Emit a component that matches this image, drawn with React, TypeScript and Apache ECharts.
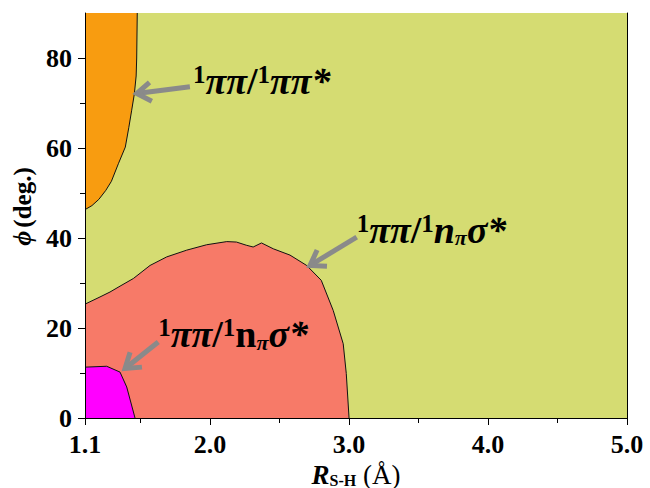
import React, { useEffect, useRef } from 'react';
import * as echarts from 'echarts';

// Axis ticks
const xMajorTicks = [1.1, 2.0, 3.0, 4.0, 5.0];
const xMinorTicks = [1.5, 2.5, 3.5, 4.5];
const yMajorTicks = [0, 20, 40, 60, 80];
const yMinorTicks = [10, 30, 50, 70];

// Region boundaries [R (Å), phi (deg)]
const orangeBoundary = [
  [1.1, 46.3], [1.15, 47.2], [1.2, 48.6], [1.25, 50.6], [1.29, 52.6], [1.34, 56.5],
  [1.39, 60.2], [1.415, 64.5], [1.436, 68.4], [1.455, 72.0], [1.468, 76.0],
  [1.472, 80.0], [1.476, 90.0],
];
const orangeClosing = [[1.1, 90]];

const salmonBoundary = [
  [1.1, 25.3], [1.208, 26.9], [1.28, 28.0], [1.352, 29.3], [1.448, 31.0], [1.568, 33.9],
  [1.688, 35.8], [1.832, 37.3], [1.975, 38.5], [2.12, 39.2], [2.19, 39.1], [2.26, 38.4],
  [2.31, 38.0], [2.37, 38.9], [2.455, 37.6], [2.575, 36.2], [2.695, 33.9], [2.80, 30.6],
  [2.886, 23.9], [2.958, 16.5], [2.98, 9.9], [3.0, 0],
];
const salmonClosing = [[1.1, 0]];

const magentaBoundary = [
  [1.1, 11.3], [1.256, 11.5], [1.352, 10.2], [1.40, 6.9], [1.46, 0],
];
const magentaClosing = [[1.1, 0]];

// Annotations (data coordinates)
const arrowTails = [[1.855, 73.6], [3.055, 40.2], [1.627, 16.9]];
const arrowTips = [[1.472, 72.1], [2.719, 33.9], [1.388, 11.0]];
const labelAnchors = [[1.877, 79.2], [3.055, 46.1], [1.627, 22.8]];
const labelTexts = [
  '{s|1}{i|ππ}{b|/}{s|1}{i|ππ*}',
  '{s|1}{i|ππ}{b|/}{s|1}{i|n}{sub|π}{i|σ*}',
  '{s|1}{i|ππ}{b|/}{s|1}{b|n}{sub|π}{i|σ*}',
];

const COLORS = {
  bg: '#d5dc72',
  orange: '#f89c10',
  salmon: '#f77a68',
  magenta: '#ff00ff',
  arrow: '#8a8a8a',
};

const SERIF = 'Liberation Serif';

function regionSeries(boundary: number[][], closing: number[][], color: string) {
  return {
    type: 'custom',
    xAxisIndex: 0,
    yAxisIndex: 0,
    data: [0],
    clip: true,
    renderItem: (_params: any, api: any) => {
      const line = boundary.map((p) => api.coord(p));
      const poly = [...boundary, ...closing].map((p) => api.coord(p));
      return {
        type: 'group',
        children: [
          { type: 'polygon', shape: { points: poly }, style: { fill: color, stroke: 'none' } },
          {
            type: 'polyline',
            shape: { points: line },
            style: { stroke: '#111', lineWidth: 1, fill: 'none' },
          },
        ],
      };
    },
  };
}

const tok = (fontSize: number, bold: boolean, italic: boolean, verticalAlign: string, lineHeight: number) => ({
  fontSize,
  fontWeight: bold ? 'bold' : 'normal',
  fontStyle: italic ? 'italic' : 'normal',
  fontFamily: SERIF,
  verticalAlign,
  lineHeight,
  fill: '#000',
  color: '#000',
});

const richAnno = {
  s: tok(25, true, false, 'top', 18),
  i: tok(38, true, true, 'bottom', 38),
  b: tok(38, true, false, 'bottom', 38),
  sub: tok(22, true, true, 'bottom', 15),
};

export default function App() {
  const ref = useRef<HTMLDivElement>(null);

  useEffect(() => {
    if (!ref.current) return;
    const chart = echarts.init(ref.current, undefined, { renderer: 'svg' });

    const axisFont = { fontSize: 26, fontWeight: 'bold', fontStyle: 'normal', fontFamily: SERIF, color: '#000' };
    const lineStyle = { color: '#000', width: 1 };

    const option: any = {
      animation: false,
      backgroundColor: '#fff',
      textStyle: { fontFamily: SERIF },
      grid: {
        left: 85,
        right: 23,
        top: 13,
        bottom: 70,
        containLabel: false,
        outerBoundsMode: 'none',
        show: true,
        backgroundColor: COLORS.bg,
        borderWidth: 0,
      },
      xAxis: [
        {
          type: 'value',
          min: 1.1,
          max: 5.0,
          z: 10,
          position: 'bottom',
          axisLine: { show: true, lineStyle },
          axisTick: { show: true, inside: false, length: 7, customValues: xMajorTicks, lineStyle },
          axisLabel: {
            show: true,
            customValues: xMajorTicks,
            margin: 13,
            formatter: (v: number) => v.toFixed(1),
            ...axisFont,
          },
          splitLine: { show: false },
          name: '{r|R}{sub|S-H}{n| (Å)}',
          nameLocation: 'middle',
          nameGap: 36,
          nameTextStyle: {
            fontFamily: SERIF,
            rich: {
              r: tok(27, true, true, 'bottom', 27),
              sub: tok(16, true, false, 'bottom', 6),
              n: tok(27, false, false, 'bottom', 27),
            },
          },
        },
        {
          type: 'value',
          min: 1.1,
          max: 5.0,
          z: 10,
          position: 'bottom',
          axisLine: { show: false },
          axisTick: { show: true, inside: false, length: 5, customValues: xMinorTicks, lineStyle },
          axisLabel: { show: false },
          splitLine: { show: false },
        },
        {
          type: 'value',
          min: 1.1,
          max: 5.0,
          z: 10,
          position: 'top',
          axisLine: { show: true, lineStyle },
          axisTick: { show: false },
          axisLabel: { show: false },
          splitLine: { show: false },
        },
      ],
      yAxis: [
        {
          type: 'value',
          min: 0,
          max: 90,
          z: 10,
          position: 'left',
          axisLine: { show: true, lineStyle },
          axisTick: { show: true, inside: false, length: 7, customValues: yMajorTicks, lineStyle },
          axisLabel: { show: true, customValues: yMajorTicks, margin: 13, ...axisFont },
          splitLine: { show: false },
          name: '{p|ϕ} {d|(deg.)}',
          nameLocation: 'middle',
          nameGap: 46,
          nameTextStyle: {
            fontFamily: SERIF,
            padding: [0, 0, 0, 18],
            rich: {
              p: tok(26, true, true, 'middle', 28),
              d: tok(25, true, false, 'middle', 28),
            },
          },
        },
        {
          type: 'value',
          min: 0,
          max: 90,
          z: 10,
          position: 'left',
          axisLine: { show: false },
          axisTick: { show: true, inside: false, length: 5, customValues: yMinorTicks, lineStyle },
          axisLabel: { show: false },
          splitLine: { show: false },
        },
        {
          type: 'value',
          min: 0,
          max: 90,
          z: 10,
          position: 'right',
          axisLine: { show: true, lineStyle },
          axisTick: { show: false },
          axisLabel: { show: false },
          splitLine: { show: false },
        },
      ],
      series: [
        regionSeries(salmonBoundary, salmonClosing, COLORS.salmon),
        regionSeries(magentaBoundary, magentaClosing, COLORS.magenta),
        regionSeries(orangeBoundary, orangeClosing, COLORS.orange),
      ],
    };

    chart.setOption(option);

    const toPx = (p: number[]) => chart.convertToPixel({ gridIndex: 0 }, p) as number[];
    const graphics: any[] = [];
    arrowTails.forEach((tailD, k) => {
      const S = toPx(tailD);
      const T = toPx(arrowTips[k]);
      const dx = T[0] - S[0];
      const dy = T[1] - S[1];
      const len = Math.hypot(dx, dy);
      const ux = dx / len;
      const uy = dy / len;
      const arm = 17;
      const ang = (34 * Math.PI) / 180;
      const rot = (a: number) => [
        T[0] - arm * (ux * Math.cos(a) - uy * Math.sin(a)),
        T[1] - arm * (ux * Math.sin(a) + uy * Math.cos(a)),
      ];
      graphics.push({
        type: 'line',
        z: 20,
        shape: { x1: S[0], y1: S[1], x2: T[0] - ux * 2, y2: T[1] - uy * 2 },
        style: { stroke: COLORS.arrow, lineWidth: 5, lineCap: 'butt' },
      });
      graphics.push({
        type: 'polyline',
        z: 20,
        shape: { points: [rot(ang), [T[0], T[1]], rot(-ang)] },
        style: { stroke: COLORS.arrow, lineWidth: 5, fill: 'none', lineJoin: 'miter', lineCap: 'butt' },
      });
    });
    labelAnchors.forEach((a, k) => {
      const P = toPx(a);
      graphics.push({
        type: 'text',
        z: 20,
        x: P[0],
        y: P[1],
        style: {
          text: labelTexts[k],
          align: 'left',
          verticalAlign: 'top',
          fill: '#000',
          fontFamily: SERIF,
          fontSize: 38,
          fontWeight: 'bold',
          rich: richAnno,
        },
      });
    });
    chart.setOption({ graphic: graphics });

    return () => chart.dispose();
  }, []);

  return (
    <div
      ref={ref}
      style={{ position: 'fixed', left: 0, top: 0, width: 650, height: 488, background: '#fff' }}
    />
  );
}
